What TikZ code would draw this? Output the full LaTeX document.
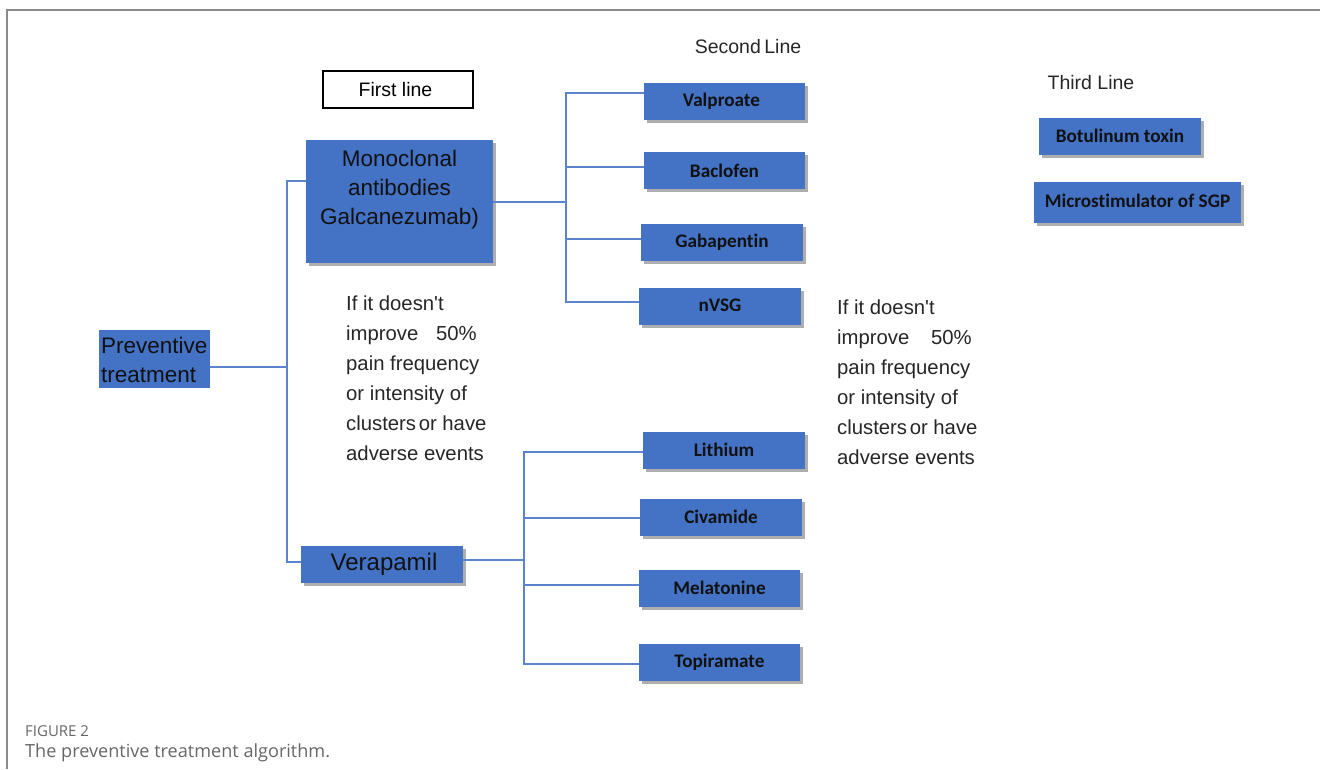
\documentclass[tikz,border=0pt]{standalone}
\usepackage{fontspec}
\setmainfont{Liberation Sans}[Ligatures=TeXOff]
\newfontfamily\calfont{Carlito}[Ligatures={NoCommon}]
\newfontfamily\capfont{Open Sans}
\usetikzlibrary{shadows}
\definecolor{boxblue}{HTML}{4472C4}
\definecolor{lineblue}{HTML}{5B84CC}
\definecolor{framegray}{HTML}{8A8A8A}
\definecolor{capgray}{HTML}{666666}
\definecolor{ink}{HTML}{111111}
\tikzset{
  bluebox/.style={fill=boxblue, draw=none, inner sep=0pt, text=ink,
    drop shadow={shadow xshift=2.5pt, shadow yshift=-3pt, fill=black!45, opacity=0.7}},
  flatbox/.style={fill=boxblue, draw=none, inner sep=0pt, text=ink},
  drugbox/.style={bluebox, minimum height=37pt, font=\calfont\bfseries\fontsize{19.2}{21}\selectfont},
  whitebox/.style={fill=white, draw=black, line width=1.2pt, inner sep=0pt},
  bigtext/.style={font=\fontsize{22.5}{29}\selectfont, text=ink, inner sep=0pt},
  midtext/.style={font=\fontsize{20.3}{30}\selectfont, text=black!85, inner sep=0pt, align=left},
  headtext/.style={font=\fontsize{19.5}{22}\selectfont, text=black!85, inner sep=0pt},
  conn/.style={draw=lineblue, line width=1.5pt},
}
\begin{document}
\begin{tikzpicture}[x=1pt,y=-1pt]
\useasboundingbox (0,0) rectangle (1320,769);
\draw[framegray, line width=1.2pt] (7,769) -- (7,10) -- (1320,10);

% first line
\node[whitebox, minimum width=150pt, minimum height=37pt] (first) at (398,89.5) {\fontsize{19.5}{22}\selectfont\hspace{-5pt}First line};

% preventive
\node[flatbox, minimum width=111pt, minimum height=58pt] (prev) at (154.5,359) {};
\node[bigtext, align=left, anchor=west] (prevtext) at (101,359.5) {Preventive\\treatment};

% monoclonal
\node[bluebox, minimum width=187pt, minimum height=123pt] (mono) at (399.5,201.5) {};
\node[bigtext, align=center] (monotext) at (399.5,190) {Monoclonal\\antibodies\\Galcanezumab)};

% verapamil
\node[bluebox, minimum width=162pt, minimum height=37pt, font=\fontsize{24}{26}\selectfont] (vera) at (382,564.5) {\hspace{4pt}Verapamil};

% headings
\node[headtext] (second) at (748,47) {Second\hspace{-2pt} Line};
\node[headtext] (third) at (1091,83) {Third Line};

% second line drugs
\node[drugbox, minimum width=161pt] (valp) at (724.5,101.5) {\hspace{-6pt}Valproate};
\node[drugbox, minimum width=161pt] (bacl) at (724.5,170.5) {Baclofen};
\node[drugbox, minimum width=162pt] (gaba) at (722,242.5) {Gabapentin};
\node[drugbox, minimum width=162pt] (nvsg) at (720,306.5) {\raisebox{2pt}{nVSG}};

\node[drugbox, minimum width=162pt] (lith) at (724,450) {Lithium};
\node[drugbox, minimum width=162pt] (civa) at (721,517) {Civamide};
\node[drugbox, minimum width=161pt] (mela) at (719.5,588) {Melatonine};
\node[drugbox, minimum width=161pt] (topi) at (719.5,662) {Topiramate};

% third line
\node[drugbox, minimum width=162pt] (botu) at (1120,136) {Botulinum toxin};
\node[drugbox, minimum width=207pt, minimum height=41pt] (micro) at (1137.5,202.5) {\raisebox{3pt}{Microstimulator of SGP}};

% condition texts
\node[midtext, anchor=north west] (cond1) at (346,296) {If it doesn't\\improve\hspace{12pt} 50\%\\pain frequency\\or intensity of\\clusters\hspace{-3pt} or have\\adverse events};
\node[midtext, anchor=north west] (cond2) at (837,300) {If it doesn't\\improve\hspace{16pt} 50\%\\pain frequency\\or intensity of\\clusters\hspace{-3pt} or have\\adverse events};

% connectors
\coordinate (t0) at (287,367);
\coordinate (t1) at (287,181);
\coordinate (t2) at (287,562);
\draw[conn] (prev.east |- t0) -- (t0);
\draw[conn] (mono.west |- t1) -- (t1) -- (t2) -- (vera.west |- t2);

\coordinate (m0) at (566,202);
\coordinate (m1) at (566,93);
\coordinate (m2) at (566,167);
\coordinate (m3) at (566,239);
\coordinate (m4) at (566,302);
\draw[conn] (mono.east |- m0) -- (m0);
\draw[conn] (valp.west |- m1) -- (m1) -- (m4) -- (nvsg.west |- m4);
\draw[conn] (m2) -- (bacl.west |- m2);
\draw[conn] (m3) -- (gaba.west |- m3);

\coordinate (v0) at (524,560);
\coordinate (v1) at (524,452);
\coordinate (v2) at (524,518);
\coordinate (v3) at (524,585);
\coordinate (v4) at (524,664);
\draw[conn] (vera.east |- v0) -- (v0);
\draw[conn] (lith.west |- v1) -- (v1) -- (v4) -- (topi.west |- v4);
\draw[conn] (v2) -- (civa.west |- v2);
\draw[conn] (v3) -- (mela.west |- v3);

% caption
\node[anchor=west, inner sep=0pt, text=capgray, font=\capfont\fontsize{15}{18}\selectfont] (figlab) at (25,731) {FIGURE 2};
\node[anchor=west, inner sep=0pt, text=capgray, font=\capfont\fontsize{18.1}{21}\selectfont] (figcap) at (25,753) {The preventive treatment algorithm.};
\end{tikzpicture}
\end{document}
